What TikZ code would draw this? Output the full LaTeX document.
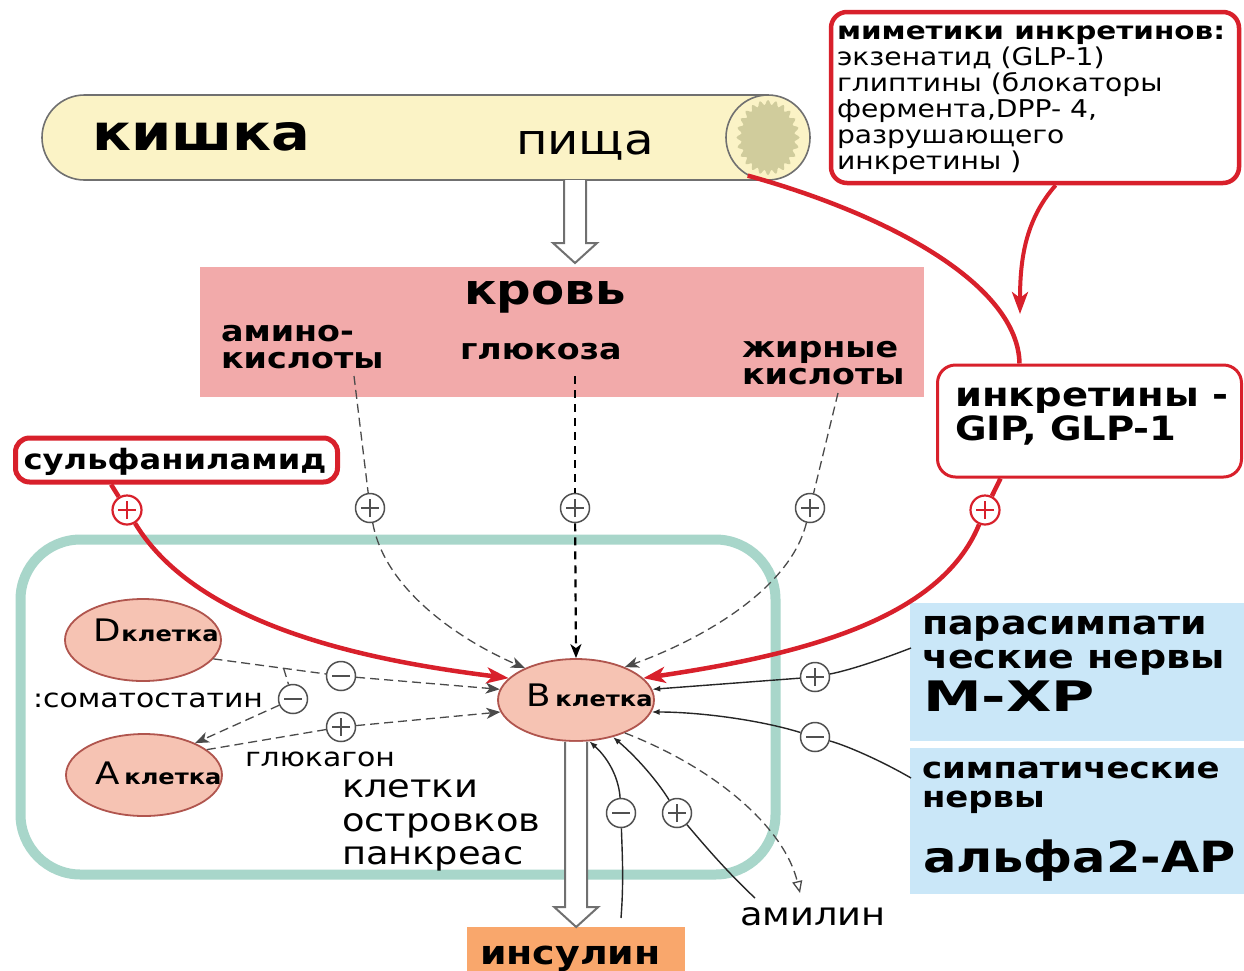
\documentclass[tikz,border=0pt]{standalone}
\usepackage{fontspec}
\usepackage{graphicx}
\setmainfont{DejaVu Sans}[FakeStretch=1.15]
\usetikzlibrary{shapes.geometric, arrows.meta, calc}
\definecolor{gutY}{HTML}{FBF3C6}
\definecolor{gutB}{HTML}{707070}
\definecolor{gutK}{HTML}{D0CC9C}
\definecolor{bloodP}{HTML}{F2AAAA}
\definecolor{redC}{HTML}{D8202B}
\definecolor{tealC}{HTML}{A8D6CA}
\definecolor{cellF}{HTML}{F6C3B3}
\definecolor{cellB}{HTML}{B0554E}
\definecolor{blueC}{HTML}{CAE7F8}
\definecolor{orangeC}{HTML}{F9A76C}
\definecolor{pmG}{HTML}{505050}
\definecolor{dshC}{HTML}{4A4A4A}
\newcommand\fsz[2]{\fontsize{#1}{#2}\selectfont}
\newcommand\hollowarr[2]{%
  \draw[gutB, fill=white, line width=2pt, line join=miter]
    ($(#1)+(-11,0)$) -- ($(#2)+(-11,-20)$) -- ($(#2)+(-22,-20)$) -- (#2)
    -- ($(#2)+(22,-20)$) -- ($(#2)+(11,-20)$) -- ($(#1)+(11,0)$);}
\tikzset{
  txt/.style={inner sep=0pt, outer sep=0pt, text=black},
  cell/.style={ellipse, draw=cellB, fill=cellF, line width=1.8pt, minimum width=156pt, minimum height=82pt, inner sep=0pt},
  pmc/.style={circle, draw=pmG, fill=white, line width=1.5pt, minimum size=29pt, inner sep=0pt},
  plusc/.style={pmc, path picture={\draw[pmG, line width=1.8pt]
     ([xshift=-9pt]path picture bounding box.center) -- ([xshift=9pt]path picture bounding box.center)
     ([yshift=-9pt]path picture bounding box.center) -- ([yshift=9pt]path picture bounding box.center);}},
  minusc/.style={pmc, path picture={\draw[pmG, line width=1.8pt]
     ([xshift=-9pt]path picture bounding box.center) -- ([xshift=9pt]path picture bounding box.center);}},
  rplusc/.style={pmc, draw=redC, line width=2.2pt, path picture={\draw[redC, line width=2.4pt]
     ([xshift=-9pt]path picture bounding box.center) -- ([xshift=9pt]path picture bounding box.center)
     ([yshift=-9pt]path picture bounding box.center) -- ([yshift=9pt]path picture bounding box.center);}},
  dsh/.style={dshC, line width=1.3pt, dash pattern=on 9pt off 5pt},
  dshG/.style={black, line width=2.2pt, dash pattern=on 8pt off 6pt},
  blkarrow/.style={-{Stealth[length=14pt, width=11pt, inset=4pt]}},
  smallarrow/.style={-{Latex[length=8pt, width=6pt]}},
  redL/.style={redC, line width=4.5pt},
  redarrow/.style={-{Stealth[length=22pt, width=16pt, inset=6pt]}},
  thinL/.style={black!85, line width=1.4pt},
}
\begin{document}
\begin{tikzpicture}[x=1pt, y=-1pt]
\useasboundingbox (0,0) rectangle (1244,970);
\fill[white] (0,0) rectangle (1244,970);

% ---- gut
\filldraw[draw=gutB, fill=gutY, line width=1.6pt, rounded corners=42.5pt] (768,95) -- (42,95) -- (42,180) -- (768,180);
\node[ellipse, draw=gutB, fill=gutY, line width=1.6pt, minimum width=84pt, minimum height=85pt, inner sep=0pt] (gutend) at (768,137.5) {};
\fill[gutK] plot[samples=145, domain=0:360, variable=\t]
  ({768+(29+2.5*cos(24*\t))*cos(\t)}, {137.5+(35+2.5*cos(24*\t))*sin(\t)}) -- cycle;
\node[txt, anchor=west, font=\bfseries\fsz{50}{50}] (kishka) at (92,137) {кишка};
\node[txt, anchor=base west, font=\fsz{42}{42}] (pishcha) at (516,154) {пища};
\coordinate (gutS) at (575,180);

% ---- blood
\node[fill=bloodP, minimum width=724pt, minimum height=130pt, inner sep=0pt] (blood) at (562,332) {};
\coordinate (bloodT) at (575,263);
\hollowarr{gutS}{bloodT}
\node[txt, anchor=base, font=\bfseries\fsz{42}{42}] (krov) at (545,304) {кровь};
\node[txt, anchor=base west, font=\bfseries\fsz{29}{29}] (am1) at (221,341) {амино-};
\node[txt, anchor=base west, font=\bfseries\fsz{29}{29}] (am2) at (221,368) {кислоты};
\node[txt, anchor=base west, font=\bfseries\fsz{29}{29}] (glu) at (460,359) {глюкоза};
\node[txt, anchor=base west, font=\bfseries\fsz{29}{29}] (fa1) at (742,357) {жирные};
\node[txt, anchor=base west, font=\bfseries\fsz{29}{29}] (fa2) at (742,384) {кислоты};
\coordinate (amS) at (354,376);
\coordinate (glS) at (575,376);
\coordinate (faS) at (838,393);

% ---- mimetics box
\node[draw=redC, line width=4.5pt, rounded corners=16pt, fill=white, minimum width=408pt, minimum height=171pt, inner sep=0pt] (mim) at (1035,97.5) {};
\node[txt, anchor=north west, align=left, font=\fsz{24.5}{26}] (mimt) at (837,26)
  {\scalebox{1.045}[1]{\bfseries миметики инкретинов:}\\экзенатид (GLP-1)\\глиптины (блокаторы\\фермента,DPP- 4,\\разрушающего\\инкретины )};
\coordinate (redtip) at (1020,314);

% ---- incretins box
\node[draw=redC, line width=3pt, rounded corners=18pt, fill=white, minimum width=304pt, minimum height=112pt, inner sep=0pt] (ink) at (1089.5,421) {};
\node[txt, anchor=base west, font=\bfseries\fsz{33.5}{33.5}] (ink1) at (955,406) {инкретины -};
\node[txt, anchor=base west, font=\bfseries\fsz{33.5}{33.5}] (ink2) at (955,440) {GIP, GLP-1};

% ---- sulfanilamide
\node[draw=redC, line width=5pt, rounded corners=14pt, fill=white, minimum width=322pt, minimum height=44pt, inner sep=0pt] (sulf) at (176.5,460) {};
\node[txt, anchor=base, font=\bfseries\fsz{28}{28}] (sulft) at (175,469) {сульфаниламид};

% ---- islet
\node[draw=tealC, line width=10pt, rounded corners=60pt, minimum width=755pt, minimum height=335pt, inner sep=0pt] (islet) at (398,707) {};

% ---- nerve boxes, insulin
\node[fill=blueC, minimum width=334pt, minimum height=138pt, inner sep=0pt, anchor=north west] (para) at (910,603) {};
\node[fill=blueC, minimum width=334pt, minimum height=146pt, inner sep=0pt, anchor=north west] (symp) at (910,748) {};
\node[fill=orangeC, minimum width=218pt, minimum height=50pt, inner sep=0pt, anchor=north west] (ins) at (467,927) {};

% ---- cells
\node[cell] (D) at (143,640) {};
\node[cell] (A) at (144,775) {};
\node[cell] (B) at (576,700) {};

% ---- signs
\node[rplusc] (pS) at (127,510) {};
\node[plusc] (pAm) at (370,508) {};
\node[plusc] (pGl) at (575,508) {};
\node[plusc] (pFa) at (810,508) {};
\node[rplusc] (pIn) at (985,510) {};
\node[minusc] (mD) at (341,676) {};
\node[minusc] (mS) at (293,699) {};
\node[plusc] (pA) at (341,727) {};
\node[plusc] (pPa) at (815,677) {};
\node[minusc] (mSy) at (815,737) {};
\node[minusc] (mBo) at (621,813) {};
\node[plusc] (pBo) at (677,813) {};
\coordinate (paS) at (911,648);
\coordinate (syS) at (911,778);
\coordinate (moS) at (621,918);
\coordinate (poS) at (755,898);
\coordinate (amyE) at (800,893);

% ---- blood connectors
\draw[dsh] (amS) -- (pAm);
\draw[dsh, blkarrow] (pAm) .. controls (385,590) and (460,640) .. (B.148);
\draw[dshG] (glS) -- (pGl);
\draw[dshG, blkarrow] (pGl) -- (B.north);
\draw[dsh] (faS) -- (pFa);
\draw[dsh, blkarrow] (pFa) .. controls (790,590) and (700,640) .. (B.34);

% ---- red connectors
\draw[redL] ($(sulf.south west)!0.3!(sulf.south east)$) -- (pS);
\draw[redL, redarrow] (pS) .. controls (200,630) and (380,662) .. (B.162);
\draw[redL] (gutend.-118) .. controls (890,215) and (1018,285) .. ($(ink.north west)!0.272!(ink.north east)$);
\draw[redC, line width=4pt, redarrow] ($(mim.south west)!0.55!(mim.south east)$) .. controls (1025,220) and (1020,260) .. (redtip);
\draw[redL] ($(ink.south west)!0.21!(ink.south east)$) -- (pIn);
\draw[redL, redarrow] (pIn) .. controls (940,620) and (800,655) .. (B.18);

% ---- D / A cells
\draw[dsh] (D.-15) -- (mD);
\draw[dsh, blkarrow] (mD) -- (B.172);
\draw[dsh] ($(D.-15)!0.55!(mD)$) -- (mS);
\draw[dsh, blkarrow] (mS) -- (A.32);
\draw[dsh] (A.22) -- (pA);
\draw[dsh, blkarrow] (pA) -- (B.189);

% ---- nerves
\draw[thinL] (paS) .. controls (880,660) and (850,670) .. (pPa);
\draw[thinL, smallarrow] (pPa) -- (B.8);
\draw[thinL] (syS) .. controls (880,760) and (845,745) .. (mSy);
\draw[thinL, smallarrow] (mSy) .. controls (760,720) and (700,712) .. (B.-9);

% ---- bottom
\hollowarr{B.south}{ins.north}
\draw[thinL] (moS) .. controls (624,880) and (622,850) .. (mBo);
\draw[thinL, smallarrow] (mBo) .. controls (619,780) and (610,760) .. (B.-72);
\draw[thinL] (poS) .. controls (725,870) and (700,840) .. (pBo);
\draw[thinL, smallarrow] (pBo) .. controls (660,785) and (640,760) .. (B.-45);
\draw[dsh, -{Triangle[open, length=12pt, width=10pt]}] (B.-34) .. controls (720,770) and (785,830) .. (amyE);

% ---- cell labels
\node[txt, anchor=base west] (Dt) at (93,641) {\fsz{31}{31}D\hspace{1pt}\bfseries\fsz{21}{21}клетка};
\node[txt, anchor=base west] (At) at (95,784) {\fsz{31}{31}A\hspace{5pt}\bfseries\fsz{21}{21}клетка};
\node[txt, anchor=base west] (Bt) at (526,706) {\fsz{31}{31}B\hspace{5pt}\bfseries\fsz{21}{21}клетка};

% ---- other labels
\node[txt, anchor=base west, font=\fsz{26}{26}] (soma) at (33,707) {:соматостатин};
\node[txt, anchor=base west, font=\fsz{26}{26}] (gluc) at (245,766) {глюкагон};
\node[txt, anchor=base west, font=\fsz{32}{32}] (isl1) at (342,797) {клетки};
\node[txt, anchor=base west, font=\fsz{32}{32}] (isl2) at (342,831) {островков};
\node[txt, anchor=base west, font=\fsz{32}{32}] (isl3) at (342,864) {панкреас};
\node[txt, anchor=base west, font=\fsz{32}{32}] (amy) at (740,925) {амилин};
\node[txt, anchor=base west, font=\bfseries\fsz{33}{33}] (inst) at (480,964) {инсулин};
\node[txt, anchor=base west, font=\bfseries\fsz{33}{33}] (pa1) at (922,634) {парасимпати};
\node[txt, anchor=base west, font=\bfseries\fsz{33}{33}] (pa2) at (922,668) {ческие нервы};
\node[txt, anchor=base west, font=\bfseries\fsz{42}{42}] (pa3) at (923,711) {\scalebox{1.22}[1]{М-ХР}};
\node[txt, anchor=base west, font=\bfseries\fsz{29.5}{29.5}] (sy1) at (922,778) {симпатические};
\node[txt, anchor=base west, font=\bfseries\fsz{29.5}{29.5}] (sy2) at (922,807) {нервы};
\node[txt, anchor=base west, font=\bfseries\fsz{43}{43}] (sy3) at (923,872) {альфа2-АР};
\end{tikzpicture}
\end{document}
